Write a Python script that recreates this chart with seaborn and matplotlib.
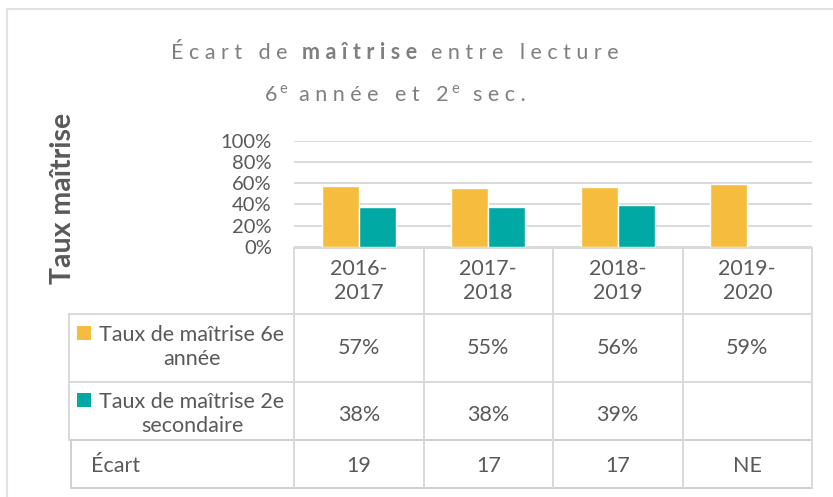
import numpy as np
import pandas as pd
import matplotlib
matplotlib.use('Agg')
import matplotlib.pyplot as plt
import seaborn as sns
from matplotlib.patches import Rectangle
from matplotlib.lines import Line2D
from matplotlib.transforms import blended_transform_factory

# Data
years = ['2016-2017', '2017-2018', '2018-2019', '2019-2020']
year_labels = ['2016-\n2017', '2017-\n2018', '2018-\n2019', '2019-\n2020']
series = ['Taux de maîtrise 6e année', 'Taux de maîtrise 2e secondaire']
row_labels = ['Taux de maîtrise 6e\nannée', 'Taux de maîtrise 2e\nsecondaire']
taux_6e = [0.57, 0.55, 0.56, 0.59]
taux_2e = [0.38, 0.38, 0.39, np.nan]
ecart = ['19', '17', '17', 'NE']
colors = ['#F6BC3D', '#00A9A4']

TXT = '#595959'
GRID = '#D9D9D9'
SP = '\u2009\u2009'
FS = 15.5

sns.set_theme(style='white')
plt.rcParams['font.family'] = ['Lato', 'DejaVu Sans']

W, H = 833, 497
fig = plt.figure(figsize=(W / 100, H / 100), dpi=100)


def fx(px):
    return px / W


def fy(py):
    return 1 - py / H


# Bars
ax = fig.add_axes([fx(294), fy(247), (812 - 294) / W, (247 - 140.5) / H])
df = pd.DataFrame({
    'Année': years * 2,
    'Série': [series[0]] * len(years) + [series[1]] * len(years),
    'Taux': taux_6e + taux_2e,
})
sns.barplot(data=df, x='Année', y='Taux', hue='Série', hue_order=series,
            palette=colors, width=0.57, gap=0, saturation=1, errorbar=None,
            legend=False, ax=ax)
ax.set_xlim(-0.5, len(years) - 0.5)
ax.set_ylim(0, 1)
ax.set_yticks(np.arange(0, 1.01, 0.2))
ax.set_yticklabels([f'{int(round(v * 100))}%' for v in np.arange(0, 1.01, 0.2)])
ax.tick_params(axis='y', length=0, pad=16, labelsize=14.5, labelcolor=TXT)
ax.set_xticks([])
ax.set_xlabel('')
ax.set_ylabel('')
ax.yaxis.grid(True, color=GRID, lw=1.4)
ax.set_axisbelow(True)
for s in ax.spines.values():
    s.set_visible(False)

fig.text(fx(63), fy(198), 'Taux maîtrise', rotation=90, ha='center', va='center',
         fontsize=20.5, fontweight='bold', color=TXT)

# Data table
def hline(y, x0, x1, c=GRID):
    fig.add_artist(Line2D([fx(x0), fx(x1)], [fy(y), fy(y)], color=c, lw=1.4))


def vline(x, y0, y1, c=GRID):
    fig.add_artist(Line2D([fx(x), fx(x)], [fy(y0), fy(y1)], color=c, lw=1.4))


hline(248, 294, 812)
hline(314, 69, 812)
hline(382, 69, 812)
hline(440, 69, 812, '#CFCFCF')
hline(488, 71, 812, '#CFCFCF')
vline(69, 314, 440)
vline(71, 440, 488, '#CFCFCF')
for k in range(len(years) + 1):
    vline(294 + k * (812 - 294) / len(years), 248, 488)

# outer chart border
fig.add_artist(Line2D([fx(7), fx(833)], [fy(8.5), fy(8.5)], color='#E2E2E2', lw=1.5))
fig.add_artist(Line2D([fx(7), fx(7)], [fy(8.5), fy(497)], color='#E2E2E2', lw=1.5))

tr = blended_transform_factory(ax.transData, fig.transFigure)
for i in range(len(years)):
    fig.text(i, fy(281), year_labels[i], transform=tr, ha='center', va='center',
             fontsize=FS, color=TXT, linespacing=1.3)
    v6 = taux_6e[i]
    v2 = taux_2e[i]
    fig.text(i, fy(348), '' if np.isnan(v6) else f'{v6:.0%}', transform=tr,
             ha='center', va='center', fontsize=FS, color=TXT)
    fig.text(i, fy(415), '' if np.isnan(v2) else f'{v2:.0%}', transform=tr,
             ha='center', va='center', fontsize=FS, color=TXT)
    fig.text(i, fy(466), ecart[i], transform=tr, ha='center', va='center',
             fontsize=FS, color=TXT)

for lab, col, yc in zip(row_labels, colors, [347, 414]):
    fig.add_artist(Rectangle((fx(77), fy(yc - 7)), 14 / W, 14 / H,
                             transform=fig.transFigure, color=col, lw=0))
    fig.text(fx(192), fy(yc), lab, ha='center', va='center', multialignment='center',
             fontsize=FS, color=TXT, linespacing=1.3)
fig.text(fx(91), fy(466), 'Écart', ha='left', va='center', fontsize=FS, color=TXT)

# Title with letter spacing
TCOL = '#7F7F7F'
TS = 15.5
SUP = 10.5


def sp(s):
    # spaced letters; word gaps built from thin spaces only
    return SP.join(s).replace(SP + ' ' + SP, SP * 3)


def chain(prev, text, gap, **kw):
    return ax.annotate(text, xy=(1, 0), xycoords=prev, xytext=(gap, 0),
                       textcoords='offset points', ha='left', va='bottom',
                       color=TCOL, fontsize=TS, annotation_clip=False, **kw)


def sup(prev):
    return ax.annotate('e', xy=(1, 0.45), xycoords=prev, xytext=(2, 0),
                       textcoords='offset points', ha='left', va='bottom',
                       color=TCOL, fontsize=SUP, annotation_clip=False)


t1a = fig.text(0.3, fy(59), sp('Écart de'), ha='left', va='baseline', color=TCOL, fontsize=TS)
t1b = chain(t1a, sp('maîtrise'), 10, fontweight='bold')
t1c = chain(t1b, sp('entre lecture'), 10)

t2a = fig.text(0.3, fy(101), '6', ha='left', va='baseline', color=TCOL, fontsize=TS)
t2b = sup(t2a)
t2c = ax.annotate(sp('année et 2'), xy=(1, 0), xycoords=(t2b, t2a), xytext=(8, 0),
                  textcoords='offset points', ha='left', va='bottom',
                  color=TCOL, fontsize=TS, annotation_clip=False)
t2d = sup(t2c)
t2e = ax.annotate(sp('sec.'), xy=(1, 0), xycoords=(t2d, t2c), xytext=(10, 0),
                  textcoords='offset points', ha='left', va='bottom',
                  color=TCOL, fontsize=TS, annotation_clip=False)

fig.canvas.draw()
r = fig.canvas.get_renderer()
for first, last in [(t1a, t1c), (t2a, t2e)]:
    b0 = first.get_window_extent(r)
    b1 = last.get_window_extent(r)
    mid = (b0.x0 + b1.x1) / 2
    x, y = first.get_position()
    first.set_position((x + (395 - mid) / W, y))

fig.savefig('out.png', dpi=100)
